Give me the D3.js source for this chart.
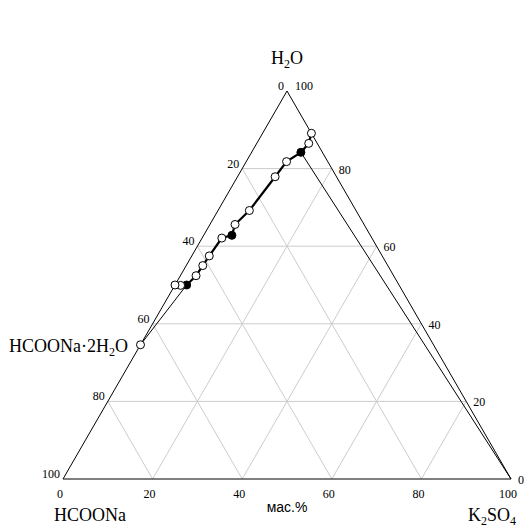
<!DOCTYPE html>
<html><head><meta charset="utf-8">
<script src="https://cdn.jsdelivr.net/npm/d3@7"></script>
<style>body{margin:0;background:#fff}svg{display:block}</style>
</head><body>
<script>
// Composition data, mass % (HCOONa, K2SO4; H2O = rest)
const naPct = [0, 1.9, 4.8, 9.2, 13.7, 23.8, 28.8, 30.9, 33.5, 38.6, 41.3, 44.1, 47.4, 48.8, 50.0];
const kPct  = [10.9, 11.6, 11.0, 9.0, 8.4, 7.0, 5.6, 6.3, 4.4, 3.9, 3.7, 3.5, 2.6, 1.3, 0];
const filledFlags = [0, 0, 1, 0, 0, 0, 0, 1, 0, 0, 0, 0, 1, 0, 0];
// Solid phase: HCOONa·2H2O
const hydrateNa = 65.4, hydrateK = 0;
// Tie lines
const tieLines = [["hydrate", 12], [2, "K2SO4"]];
const gridLevels = [20, 40, 60, 80];
const tickLabels = [0, 20, 40, 60, 80, 100];

const W = 525, H = 527;
const svg = d3.select("body").append("svg").attr("width", W).attr("height", H);

const xs = d3.scaleLinear().domain([0, 100]).range([63, 511]);
const ys = d3.scaleLinear().domain([0, 100]).range([479, 91]);
function P(na, k) { const w = 100 - na - k; return [xs(k + w / 2), ys(w)]; }

const serif = "'Liberation Serif','Times New Roman',serif";

// grid
const g = svg.append("g").attr("stroke", "#cccccc").attr("stroke-width", 1).attr("fill", "none");
function seg(p, a, b) { p.append("line").attr("x1", a[0]).attr("y1", a[1]).attr("x2", b[0]).attr("y2", b[1]); }
gridLevels.forEach(v => {
  seg(g, P(100 - v, 0), P(0, 100 - v));
  seg(g, P(100 - v, v), P(0, v));
  seg(g, P(v, 100 - v), P(v, 0));
});

// triangle
const tri = [P(100, 0), P(0, 100), P(0, 0)];
svg.append("path").attr("d", d3.line()(tri) + "Z").attr("fill", "none").attr("stroke", "#000").attr("stroke-width", 1);

// tie lines
const pts = naPct.map((n, i) => P(n, kPct[i]));
function ref(r) { return r === "hydrate" ? P(hydrateNa, hydrateK) : r === "K2SO4" ? P(0, 100) : pts[r]; }
const tg = svg.append("g").attr("stroke", "#000").attr("stroke-width", 1);
tieLines.forEach(([a, b]) => seg(tg, ref(a), ref(b)));

// solubility curve
svg.append("path").attr("d", d3.line()(pts)).attr("fill", "none").attr("stroke", "#000").attr("stroke-width", 2.2);
svg.selectAll("circle.pt").data(pts).enter().append("circle")
  .attr("cx", d => d[0]).attr("cy", d => d[1]).attr("r", 4)
  .attr("fill", (d, i) => filledFlags[i] ? "#000" : "#fff").attr("stroke", "#000").attr("stroke-width", 1);
const hp = P(hydrateNa, hydrateK);
svg.append("circle").attr("cx", hp[0]).attr("cy", hp[1]).attr("r", 4).attr("fill", "#fff").attr("stroke", "#000");

// tick labels
const tl = svg.append("g").attr("font-family", serif).attr("font-size", 12).attr("fill", "#000");
tickLabels.forEach(v => {
  tl.append("text").attr("x", xs(v) - 3).attr("y", 498).attr("text-anchor", "middle").text(v);
  const pl = P(v, 0);
  tl.append("text").attr("x", pl[0] - 3).attr("y", pl[1] - 1).attr("text-anchor", "end").text(v);
  const pr = P(0, 100 - v);
  if (v === 100) tl.append("text").attr("x", pr[0] + 8).attr("y", pr[1] - 1).text(v);
  else tl.append("text").attr("x", pr[0] + 7).attr("y", pr[1] + 5).text(v);
});

// component labels
const lab = svg.append("g").attr("font-family", serif).attr("font-size", 18).attr("fill", "#000");
function chem(parent, x, y, parts, anchor) {
  const t = parent.append("text").attr("x", x).attr("y", y).attr("text-anchor", anchor || "start");
  let shift = 0;
  parts.forEach(p => {
    if (typeof p === "string") { const s = t.append("tspan").text(p); if (shift) s.attr("dy", -shift); shift = 0; }
    else { t.append("tspan").attr("font-size", 12).attr("dy", 3.5).text(p.sub); shift = 3.5; }
  });
  return t;
}
chem(lab, xs(50), 64, ["H", {sub: "2"}, "O"], "middle");
chem(lab, 54, 521, ["HCOONa"]);
chem(lab, 468, 521, ["K", {sub: "2"}, "SO", {sub: "4"}]);
chem(lab, 9, 352, ["HCOONa\u00B72H", {sub: "2"}, "O"]);

svg.append("text").attr("x", 287).attr("y", 512).attr("text-anchor", "middle")
  .attr("font-family", "'Liberation Sans',Arial,sans-serif").attr("font-size", 14).text("мас.%");
</script>
</body></html>
